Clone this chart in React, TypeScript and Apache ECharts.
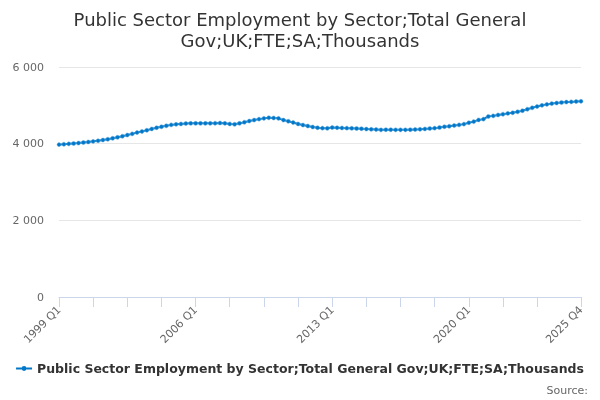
import React, { useEffect, useRef } from 'react';
import * as echarts from 'echarts';

const seriesName = 'Public Sector Employment by Sector;Total General Gov;UK;FTE;SA;Thousands';

const years: number[] = [];
for (let y = 1999; y <= 2025; y++) years.push(y);
const quarters = years.flatMap((y) => ['Q1', 'Q2', 'Q3', 'Q4'].map((q) => `${y} ${q}`));

// thousands, FTE
const values: number[] = [
  3975, 3985, 3995, 4005, // 1999
  4015, 4030, 4045, 4060, // 2000
  4075, 4095, 4115, 4140, // 2001
  4165, 4195, 4225, 4255, // 2002
  4290, 4320, 4350, 4385, // 2003
  4415, 4440, 4465, 4490, // 2004
  4505, 4515, 4525, 4530, // 2005
  4530, 4530, 4530, 4530, // 2006
  4535, 4540, 4530, 4515, // 2007
  4505, 4530, 4560, 4590, // 2008
  4615, 4640, 4660, 4675, // 2009
  4670, 4660, 4615, 4585, // 2010
  4550, 4515, 4485, 4460, // 2011
  4435, 4415, 4405, 4400, // 2012
  4420, 4415, 4410, 4405, // 2013
  4400, 4395, 4390, 4380, // 2014
  4375, 4370, 4360, 4365, // 2015
  4365, 4360, 4360, 4360, // 2016
  4365, 4370, 4375, 4385, // 2017
  4395, 4405, 4420, 4440, // 2018
  4455, 4475, 4490, 4510, // 2019
  4545, 4575, 4620, 4640, // 2020
  4710, 4725, 4750, 4770, // 2021
  4790, 4805, 4830, 4860, // 2022
  4900, 4935, 4970, 5000, // 2023
  5025, 5045, 5060, 5075, // 2024
  5085, 5090, 5100, 5105, // 2025
];

const lastIndex = quarters.length - 1;

const App: React.FC = () => {
  const chartRef = useRef<HTMLDivElement>(null);

  useEffect(() => {
    if (!chartRef.current) return;
    const chart = echarts.init(chartRef.current, undefined, { renderer: 'svg' });

    const font = 'DejaVu Sans, sans-serif';

    const options: echarts.EChartsOption = {
      animation: false,
      textStyle: { fontFamily: font },
      title: {
        text: 'Public Sector Employment by Sector;Total General\nGov;UK;FTE;SA;Thousands',
        left: 'center',
        top: 4,
        textStyle: { fontSize: 18, fontWeight: 'normal', color: '#333333', lineHeight: 21, fontFamily: font },
      },
      grid: { left: 59, right: 19, top: 67, bottom: 103 },
      legend: {
        bottom: 20,
        left: 'center',
        itemWidth: 16,
        itemHeight: 5,
        itemGap: 4,
        icon: 'path://M0,2.1 L16,2.1 L16,3.9 L0,3.9 Z M8,0.6 A2.4,2.4 0 1,1 8,5.4 A2.4,2.4 0 1,1 8,0.6 Z',
        itemStyle: { color: '#0077c8', borderWidth: 0 },
        textStyle: { fontSize: 12.5, fontWeight: 'bold', color: '#333333', fontFamily: font },
        data: [seriesName],
      },
      graphic: [
        {
          type: 'text',
          right: 12,
          bottom: 4,
          style: { text: 'Source:', fontSize: 11, fill: '#666666', fontFamily: font },
        },
      ],
      xAxis: {
        type: 'category',
        data: quarters,
        boundaryGap: false,
        axisLine: { lineStyle: { color: '#ccd6eb' } },
        axisTick: {
          length: 10,
          lineStyle: { color: '#ccd6eb' },
          interval: (i: number) => (i % 7 === 0 && i <= 98) || i === lastIndex,
        },
        axisLabel: {
          rotate: 45,
          color: '#666666',
          fontSize: 11,
          margin: 11,
          fontFamily: font,
          interval: (i: number) => i % 28 === 0 || i === lastIndex,
        },
      },
      yAxis: {
        type: 'value',
        min: 0,
        max: 6000,
        interval: 2000,
        axisLine: { show: false },
        axisTick: { show: false },
        splitLine: { lineStyle: { color: '#e6e6e6' } },
        axisLabel: {
          color: '#666666',
          fontSize: 11,
          margin: 15,
          fontFamily: font,
          formatter: (v: number) => String(v).replace(/\B(?=(\d{3})+(?!\d))/g, ' '),
        },
      },
      series: [
        {
          name: seriesName,
          type: 'line',
          data: values,
          symbol: 'circle',
          symbolSize: 4,
          showAllSymbol: true,
          itemStyle: { color: '#0077c8', borderColor: '#66aee0', borderWidth: 0.5 },
          lineStyle: { color: '#0077c8', width: 2 },
        },
      ],
    };

    chart.setOption(options);
    return () => {
      chart.dispose();
    };
  }, []);

  return (
    <div
      ref={chartRef}
      style={{ position: 'fixed', left: 0, top: 0, width: 600, height: 400 }}
    />
  );
};

export default App;
